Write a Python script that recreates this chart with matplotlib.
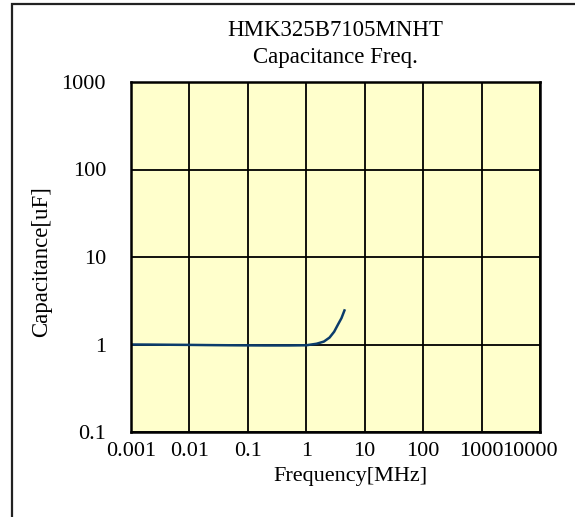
import matplotlib
matplotlib.use("Agg")
import matplotlib.pyplot as plt
from matplotlib.patches import Rectangle
from matplotlib.transforms import ScaledTranslation

# Capacitance vs frequency
freq = [0.001, 0.002, 0.005, 0.01, 0.02, 0.05, 0.1, 0.2, 0.5, 1.0,
        1.5, 2.0, 2.5, 3.0, 3.5, 4.0, 4.5]
cap = [1.0, 0.998, 0.993, 0.99, 0.985, 0.98, 0.977, 0.975, 0.975, 0.98,
       1.02, 1.08, 1.2, 1.4, 1.7, 2.0, 2.45]

xticks = [0.001, 0.01, 0.1, 1, 10, 100, 1000, 10000]
xlabels = ["0.001", "0.01", "0.1", "1", "10", "100", "1000", "10000"]
yticks = [0.1, 1, 10, 100, 1000]
ylabels = ["0.1", "1", "10", "100", "1000"]

plt.rcParams['font.family'] = ['Liberation Serif', 'DejaVu Serif']

W, H = 575, 517
fig = plt.figure(figsize=(W / 100, H / 100), dpi=100)

# outer chart border (only left and top visible in the crop)
fig.patches.append(Rectangle((12 / W, -0.1), 1.2, 1 - 4 / H + 0.1,
                             transform=fig.transFigure, fill=False,
                             edgecolor='#222222', linewidth=1.6))

ax = fig.add_axes([131 / W, (H - 432) / H, 409 / W, 350 / H])
ax.set_facecolor('#FFFFCC')
ax.set_xscale('log')
ax.set_yscale('log')
ax.set_xlim(0.001, 10000)
ax.set_ylim(0.1, 1000)

ax.plot(freq, cap, color='#0B3C6B', linewidth=1.8)

ax.set_xticks(xticks)
ax.set_xticklabels(xlabels)
ax.set_yticks(yticks)
ax.set_yticklabels(ylabels)
ax.minorticks_off()
ax.tick_params(length=0, labelsize=16)
ax.tick_params(axis='y', pad=18)
ax.tick_params(axis='x', pad=7)
ax.grid(True, color='black', linewidth=1.3)
for s in ax.spines.values():
    s.set_linewidth(1.8)

# Excel squeezes the last label inside the chart area
last = ax.get_xticklabels()[-1]
last.set_transform(last.get_transform() + ScaledTranslation(-10 / 100, 0, fig.dpi_scale_trans))

ax.set_xlabel('Frequency[MHz]', fontsize=16)
ax.xaxis.set_label_coords(350 / W, 1 - 476 / H, transform=fig.transFigure)
ax.xaxis.label.set_va('center')
ax.set_ylabel('Capacitance[uF]', fontsize=16.5)
ax.yaxis.set_label_coords(42 / W, 1 - 262 / H, transform=fig.transFigure)
ax.yaxis.label.set_va('center')

fig.text(335 / W, 1 - 30 / H, 'HMK325B7105MNHT', ha='center', va='center',
         fontsize=16.5)
fig.text(335 / W, 1 - 57 / H, 'Capacitance Freq.', ha='center', va='center',
         fontsize=16.5)

fig.savefig('out.png', dpi=100)
